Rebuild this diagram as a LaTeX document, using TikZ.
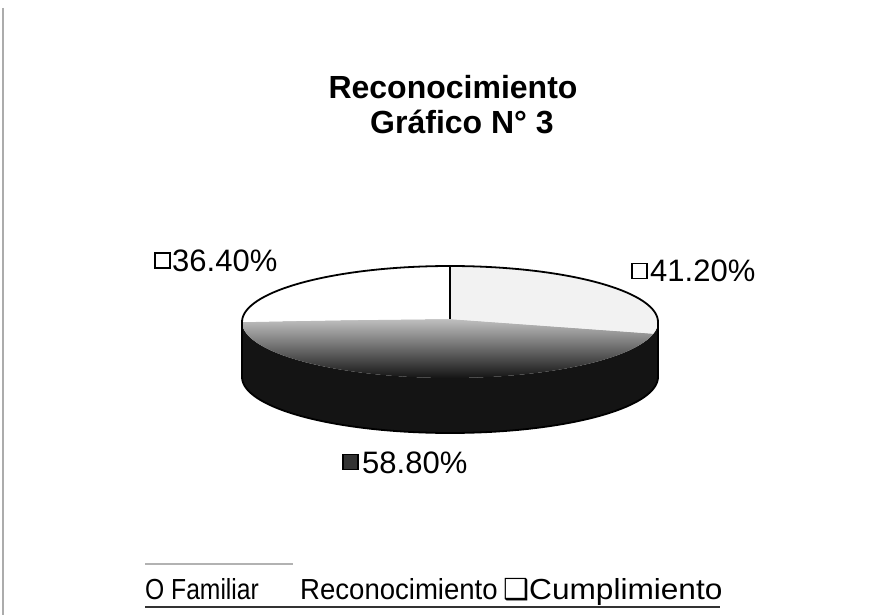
\documentclass[tikz,border=0pt]{standalone}
\usepackage{fontspec}
\setmainfont{Liberation Sans}
\newfontfamily\symfont{DejaVu Sans}
\begin{document}
\begin{tikzpicture}[x=1pt,y=-1pt,
  titletext/.style={font=\fontsize{32}{36}\selectfont\bfseries,anchor=base},
  pcttext/.style={font=\fontsize{31}{34}\selectfont,anchor=base west,inner sep=0pt},
  legtext/.style={font=\fontsize{29}{32}\selectfont,anchor=base west,inner sep=0pt},
  keybox/.style={draw=black,line width=1.4pt,fill=white,minimum size=15pt,inner sep=0pt},
  pieedge/.style={draw=black,line width=1.8pt}]
\useasboundingbox (0,0) rectangle (876,615);
\fill[white] (0,0) rectangle (876,615);
% left frame line
\draw[gray!65,line width=2.5pt] (3,8) -- (3,615);
% title
\node[titletext] (t1) at (453,99) {Reconocimiento};
\node[titletext] (t2) at (462,134) {Gráfico N° 3};
% pie parameters
\def\cx{450}\def\cy{322}\def\rx{208}\def\ry{56}\def\dd{55}
% side (front)
\fill[black!92] plot[domain=180:360,samples=60] ({\cx+\rx*cos(\x)},{\cy-\ry*sin(\x)})
  -- plot[domain=360:180,samples=60] ({\cx+\rx*cos(\x)},{\cy+\dd-\ry*sin(\x)}) -- cycle;
% dark slice top face
\shade[top color=gray!50,bottom color=black!92] (\cx,{\cy-3}) .. controls ({\cx-100},{\cy-2}) .. ({\cx-\rx},\cy) -- plot[domain=180:348,samples=60] ({\cx+\rx*cos(\x)},{\cy-\ry*sin(\x)}) .. controls ({\cx+100},{\cy}) .. (\cx,{\cy-3}) -- cycle;
% light slice
\fill[gray!10] (\cx,{\cy-3}) -- ({\cx+\rx*cos(348)},{\cy-\ry*sin(348)}) -- plot[domain=-12:90,samples=60] ({\cx+\rx*cos(\x)},{\cy-\ry*sin(\x)}) -- cycle;
\fill[gray!10] (\cx,{\cy-3}) .. controls ({\cx+100},{\cy}) .. ({\cx+\rx*cos(348)},{\cy-\ry*sin(348)}) -- (\cx,{\cy-3});
% white slice
\fill[white] (\cx,{\cy-3}) -- plot[domain=90:180,samples=60] ({\cx+\rx*cos(\x)},{\cy-\ry*sin(\x)}) .. controls ({\cx-100},{\cy-2}) .. (\cx,{\cy-3}) -- cycle;
% outlines
\draw[pieedge] plot[domain=0:180,samples=80] ({\cx+\rx*cos(\x)},{\cy-\ry*sin(\x)})
  -- ({\cx-\rx},{\cy+\dd})
  plot[domain=180:360,samples=80] ({\cx+\rx*cos(\x)},{\cy+\dd-\ry*sin(\x)})
  -- ({\cx+\rx},{\cy});
\coordinate (pc) at (\cx,{\cy-3});
\coordinate (ptop) at (\cx,{\cy-\ry});
\draw[pieedge] (pc) -- (ptop);
% labels
\node[keybox] (k1) at (162.5,260.5) {};
\node[pcttext] (l1) at (172,271) {36.40\%};
\node[keybox] (k2) at (639.5,271) {};
\node[pcttext] (l2) at (650,281) {41.20\%};
\node[keybox,fill=black!80] (k3) at (350.5,462) {};
\node[pcttext] (l3) at (362,473) {58.80\%};
% legend
\draw[gray!60,line width=1.5pt] (145,564) -- (293,564);
\node[legtext] (g1) at (145,599) {\scalebox{0.85}[1]{O Familiar}};
\node[legtext] (g2) at (300,599) {\scalebox{0.95}[1]{Reconocimiento}};
\node[legtext] (g3) at (503,599) {{\symfont ❑}\scalebox{1.09}[1]{Cumplimiento}};
\draw[black!80,line width=1.5pt] (145,607) -- (720,607);
\end{tikzpicture}
\end{document}
